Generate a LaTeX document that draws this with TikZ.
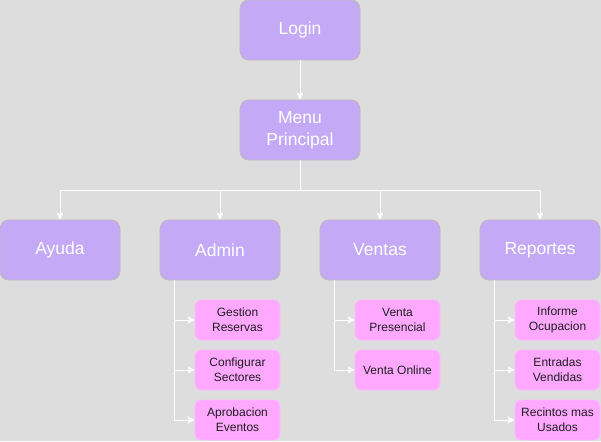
\documentclass[tikz,border=0pt]{standalone}
\usepackage{fontspec}
\setmainfont{Liberation Sans}
\usetikzlibrary{arrows.meta}
\definecolor{bg}{RGB}{221,221,221}
\definecolor{mainfill}{RGB}{196,170,246}
\definecolor{mainline}{RGB}{185,185,190}
\definecolor{subfill}{RGB}{255,168,255}
\definecolor{subline}{RGB}{255,190,255}
\definecolor{subtext}{RGB}{30,30,30}
\tikzset{
  mainbox/.style={draw=mainline, fill=mainfill, rounded corners=9pt, minimum width=120pt, minimum height=60pt, text=white, align=center, font=\fontsize{17.5}{22}\selectfont, inner sep=0pt, line width=0.8pt},
  subbox/.style={draw=subline, fill=subfill, rounded corners=6pt, minimum width=85pt, minimum height=40pt, text=subtext, align=center, font=\fontsize{12}{15}\selectfont, inner sep=0pt, line width=0.8pt},
  conn/.style={draw=white, line width=1pt, -{Stealth[length=7pt,width=7pt,inset=1.5pt]}},
  plain/.style={draw=white, line width=1pt}
}
\begin{document}
\begin{tikzpicture}[x=1pt,y=-1pt]
\fill[bg] (0,0) rectangle (601,441);
\useasboundingbox (0,0) rectangle (601,441);
\node[mainbox] (login) at (300,30) {Login};
\node[mainbox] (menu) at (300,130) {Menu\\Principal};
\node[mainbox] (ayuda) at (60,250) {Ayuda};
\node[mainbox] (admin) at (220,250) {Admin};
\node[mainbox] (ventas) at (380,250) {Ventas};
\node[mainbox] (rep) at (540,250) {Reportes};
\node[subbox] (a1) at (237.5,320) {Gestion\\Reservas};
\node[subbox] (a2) at (237.5,370) {Configurar\\Sectores};
\node[subbox] (a3) at (237.5,420) {Aprobacion\\Eventos};
\node[subbox] (v1) at (397.5,320) {Venta\\Presencial};
\node[subbox] (v2) at (397.5,370) {Venta Online};
\node[subbox] (r1) at (557.5,320) {Informe\\Ocupacion};
\node[subbox] (r2) at (557.5,370) {Entradas\\Vendidas};
\node[subbox] (r3) at (557.5,420) {Recintos mas\\Usados};
\coordinate (h) at (300,190);
\draw[conn] (login) -- (menu);
\draw[plain] (menu.south) -- (h);
\foreach \n in {ayuda,admin,ventas,rep}{
  \draw[conn] (menu.south) |- (\n.north |- h) -- (\n.north);
}
\foreach \p/\c in {admin/a1,admin/a2,admin/a3,ventas/v1,ventas/v2,rep/r1,rep/r2,rep/r3}{
  \draw[conn] ([xshift=15pt]\p.south west) |- (\c.west);
}
\end{tikzpicture}
\end{document}
